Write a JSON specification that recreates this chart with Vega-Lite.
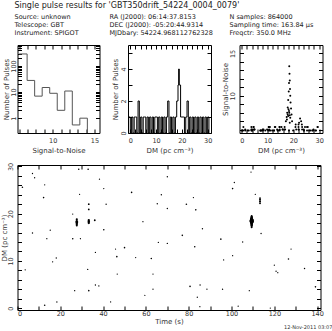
{
  "$schema": "https://vega.github.io/schema/vega-lite/v6.json",
  "padding": {"left": -0.5, "top": 0, "right": 0, "bottom": 0},
  "background": "white",
  "spacing": 7,
  "config": {
    "font": "DejaVu Sans",
    "view": {"stroke": "#000", "strokeWidth": 1},
    "axis": {"domain": false, "grid": false, "tickColor": "#000", "tickSize": -4, "minExtent": 0, "labelFontSize": 6.5, "labelColor": "#333", "titleFontSize": 7, "titleFontWeight": "normal", "titleColor": "#333"},
    "axisX": {"minExtent": 0},
    "axisY": {"minExtent": 0},
    "concat": {"spacing": 8}
  },
  "datasets": {
    "header": [
      {"row": 1, "col": 0, "label": "Source: unknown"},
      {"row": 2, "col": 0, "label": "Telescope: GBT"},
      {"row": 3, "col": 0, "label": "Instrument: SPIGOT"},
      {"row": 1, "col": 1, "label": "RA (J2000):      06:14:37.8153"},
      {"row": 2, "col": 1, "label": "DEC (J2000):   -05:20:44.9314"},
      {"row": 3, "col": 1, "label": "MJDbary: 54224.968112762328"},
      {"row": 1, "col": 2, "label": "N samples: 864000"},
      {"row": 2, "col": 2, "label": "Sampling time: 163.84 μs"},
      {"row": 3, "col": 2, "label": "Freqctr: 350.0 MHz"}
    ],
    "title": [{"row": 0, "col": 0, "label": "Single pulse results for 'GBT350drift_54224_0004_0079'"}],
    "snrhist": [
      {"snr": 6.0, "n": 290}, {"snr": 6.95, "n": 28}, {"snr": 7.85, "n": 7}, {"snr": 8.75, "n": 15},
      {"snr": 9.65, "n": 9}, {"snr": 10.55, "n": 2}, {"snr": 11.45, "n": 11}, {"snr": 12.35, "n": 0.55},
      {"snr": 13.25, "n": 1}, {"snr": 14.15, "n": 0.27}
    ],
    "dmhist": [
      {"dm": -0.5, "n": 1}, {"dm": 0, "n": 0}, {"dm": 0.5, "n": 1}, {"dm": 1, "n": 0}, {"dm": 1.5, "n": 1}, {"dm": 2, "n": 1},
      {"dm": 2.5, "n": 0}, {"dm": 3, "n": 2}, {"dm": 3.5, "n": 0}, {"dm": 4, "n": 1}, {"dm": 4.5, "n": 0}, {"dm": 5, "n": 1},
      {"dm": 5.5, "n": 1}, {"dm": 6, "n": 0}, {"dm": 6.5, "n": 1}, {"dm": 7, "n": 0}, {"dm": 7.5, "n": 1}, {"dm": 8, "n": 0},
      {"dm": 8.5, "n": 1}, {"dm": 9, "n": 0}, {"dm": 9.5, "n": 1}, {"dm": 10, "n": 1}, {"dm": 10.5, "n": 0}, {"dm": 11, "n": 1},
      {"dm": 11.5, "n": 0}, {"dm": 12, "n": 1}, {"dm": 12.5, "n": 0}, {"dm": 13, "n": 1}, {"dm": 13.5, "n": 0}, {"dm": 14, "n": 1},
      {"dm": 14.5, "n": 2}, {"dm": 15, "n": 0}, {"dm": 15.5, "n": 1}, {"dm": 16, "n": 0}, {"dm": 16.5, "n": 1}, {"dm": 17, "n": 0},
      {"dm": 17.5, "n": 1}, {"dm": 18, "n": 2}, {"dm": 18.5, "n": 3}, {"dm": 18.75, "n": 4}, {"dm": 19, "n": 3}, {"dm": 19.5, "n": 1},
      {"dm": 20, "n": 1}, {"dm": 20.5, "n": 1}, {"dm": 21, "n": 0}, {"dm": 21.5, "n": 1}, {"dm": 22, "n": 2}, {"dm": 22.5, "n": 0},
      {"dm": 23, "n": 1}, {"dm": 23.5, "n": 0}, {"dm": 24, "n": 1}, {"dm": 24.5, "n": 0}, {"dm": 25, "n": 1}, {"dm": 25.5, "n": 0},
      {"dm": 26, "n": 1}, {"dm": 26.5, "n": 0}, {"dm": 27, "n": 1}, {"dm": 27.5, "n": 0}, {"dm": 28, "n": 1}, {"dm": 28.5, "n": 0},
      {"dm": 29, "n": 1}, {"dm": 29.5, "n": 0}, {"dm": 30, "n": 1}, {"dm": 30.5, "n": 0}
    ],
    "pulses": [
      {"t": 28.6, "dm": 29.4, "snr": 6.3}, {"t": 33.0, "dm": 29.4, "snr": 6.3}, {"t": 7.0, "dm": 28.5, "snr": 5.9}, {"t": 8.0, "dm": 27.6, "snr": 5.9},
      {"t": 38.3, "dm": 27.3, "snr": 5.9}, {"t": 2.3, "dm": 25.6, "snr": 6.3}, {"t": 12.7, "dm": 26.1, "snr": 5.9}, {"t": 40.3, "dm": 25.3, "snr": 5.9},
      {"t": 53.3, "dm": 24.5, "snr": 6.3}, {"t": 70.0, "dm": 27.8, "snr": 6.0}, {"t": 67.2, "dm": 24.0, "snr": 6.0}, {"t": 12.2, "dm": 23.4, "snr": 6.3},
      {"t": 29.0, "dm": 24.1, "snr": 5.9}, {"t": 33.3, "dm": 22.0, "snr": 6.6}, {"t": 33.3, "dm": 20.9, "snr": 6.6}, {"t": 41.4, "dm": 22.0, "snr": 6.0},
      {"t": 65.3, "dm": 22.1, "snr": 6.0}, {"t": 70.0, "dm": 21.1, "snr": 6.0}, {"t": 25.8, "dm": 19.9, "snr": 5.9},
      {"t": 27.7, "dm": 17.5, "snr": 7.2}, {"t": 27.7, "dm": 17.8, "snr": 7.8}, {"t": 27.7, "dm": 18.1, "snr": 8.4}, {"t": 27.7, "dm": 18.4, "snr": 8.0}, {"t": 27.7, "dm": 18.8, "snr": 7.4},
      {"t": 33.3, "dm": 18.0, "snr": 7.6}, {"t": 33.3, "dm": 18.3, "snr": 8.2}, {"t": 33.3, "dm": 18.6, "snr": 7.7},
      {"t": 36.1, "dm": 18.6, "snr": 6.8}, {"t": 58.6, "dm": 18.3, "snr": 5.9}, {"t": 7.0, "dm": 15.9, "snr": 6.0}, {"t": 15.3, "dm": 16.5, "snr": 6.0},
      {"t": 40.3, "dm": 16.6, "snr": 6.3}, {"t": 13.7, "dm": 14.7, "snr": 6.0}, {"t": 25.8, "dm": 14.7, "snr": 6.3}, {"t": 29.4, "dm": 14.7, "snr": 5.9},
      {"t": 65.8, "dm": 13.9, "snr": 5.9},
      {"t": 109.1, "dm": 28.8, "snr": 5.9}, {"t": 101.3, "dm": 26.6, "snr": 5.9}, {"t": 100.5, "dm": 25.3, "snr": 6.3}, {"t": 111.1, "dm": 24.1, "snr": 5.9},
      {"t": 82.2, "dm": 23.4, "snr": 6.0}, {"t": 78.9, "dm": 22.0, "snr": 6.3},
      {"t": 113.3, "dm": 22.2, "snr": 6.8}, {"t": 113.3, "dm": 22.6, "snr": 7.3}, {"t": 113.3, "dm": 23.0, "snr": 7.0}, {"t": 113.3, "dm": 23.3, "snr": 6.6},
      {"t": 83.3, "dm": 20.8, "snr": 6.3},
      {"t": 109.4, "dm": 17.1, "snr": 7.0}, {"t": 109.4, "dm": 17.4, "snr": 7.5}, {"t": 109.4, "dm": 17.6, "snr": 8.0}, {"t": 109.4, "dm": 17.8, "snr": 8.6},
      {"t": 109.4, "dm": 18.0, "snr": 9.5}, {"t": 109.4, "dm": 18.2, "snr": 10.5}, {"t": 109.4, "dm": 18.3, "snr": 11.5}, {"t": 109.4, "dm": 18.4, "snr": 13.5},
      {"t": 109.4, "dm": 18.5, "snr": 12.6}, {"t": 109.4, "dm": 18.6, "snr": 11.8}, {"t": 109.4, "dm": 18.7, "snr": 10.8}, {"t": 109.4, "dm": 18.8, "snr": 10.0},
      {"t": 109.4, "dm": 18.9, "snr": 9.2}, {"t": 109.4, "dm": 19.1, "snr": 8.5}, {"t": 109.4, "dm": 19.3, "snr": 7.8}, {"t": 109.4, "dm": 19.5, "snr": 7.0},
      {"t": 86.4, "dm": 16.8, "snr": 6.0}, {"t": 113.8, "dm": 15.8, "snr": 6.0}, {"t": 77.0, "dm": 15.4, "snr": 6.3}, {"t": 95.0, "dm": 14.6, "snr": 6.3},
      {"t": 105.2, "dm": 14.0, "snr": 5.9},
      {"t": 45.8, "dm": 12.5, "snr": 5.9}, {"t": 50.0, "dm": 12.8, "snr": 6.3}, {"t": 36.4, "dm": 11.8, "snr": 5.9}, {"t": 46.4, "dm": 10.9, "snr": 6.3},
      {"t": 55.2, "dm": 10.7, "snr": 5.9}, {"t": 62.5, "dm": 10.5, "snr": 6.3}, {"t": 70.0, "dm": 13.7, "snr": 6.0}, {"t": 18.1, "dm": 10.6, "snr": 6.0},
      {"t": 16.4, "dm": 9.8, "snr": 6.0}, {"t": 3.6, "dm": 8.1, "snr": 6.0}, {"t": 32.8, "dm": 8.2, "snr": 5.9}, {"t": 46.6, "dm": 7.2, "snr": 5.9},
      {"t": 63.3, "dm": 7.2, "snr": 5.9}, {"t": 36.4, "dm": 4.9, "snr": 6.0}, {"t": 38.0, "dm": 4.7, "snr": 6.0}, {"t": 63.3, "dm": 4.0, "snr": 5.9},
      {"t": 26.7, "dm": 3.7, "snr": 6.0}, {"t": 33.3, "dm": 3.7, "snr": 6.3}, {"t": 59.5, "dm": 2.7, "snr": 5.9}, {"t": 18.4, "dm": 1.3, "snr": 6.0},
      {"t": 43.5, "dm": 1.3, "snr": 5.9}, {"t": 12.7, "dm": 0.6, "snr": 6.3},
      {"t": 82.8, "dm": 13.0, "snr": 6.3}, {"t": 127.8, "dm": 12.5, "snr": 5.9}, {"t": 96.3, "dm": 10.2, "snr": 5.9}, {"t": 100.5, "dm": 11.1, "snr": 5.9},
      {"t": 126.6, "dm": 10.4, "snr": 6.3}, {"t": 120.0, "dm": 9.1, "snr": 5.9}, {"t": 120.8, "dm": 7.8, "snr": 5.9}, {"t": 121.6, "dm": 7.5, "snr": 5.9},
      {"t": 134.1, "dm": 8.4, "snr": 6.0}, {"t": 80.6, "dm": 4.6, "snr": 6.3}, {"t": 85.3, "dm": 4.9, "snr": 6.0}, {"t": 88.5, "dm": 4.0, "snr": 5.9},
      {"t": 95.8, "dm": 4.0, "snr": 6.0}, {"t": 108.3, "dm": 3.7, "snr": 5.9}, {"t": 139.2, "dm": 4.5, "snr": 6.3}, {"t": 84.0, "dm": 2.3, "snr": 5.9},
      {"t": 85.2, "dm": 0.3, "snr": 5.9}, {"t": 103.1, "dm": 0.4, "snr": 5.9}, {"t": 118.1, "dm": 0.0, "snr": 5.9}
    ]
  },
  "vconcat": [
    {
      "width": 305,
      "height": 31,
      "view": {"stroke": null},
      "layer": [
        {
          "data": {"name": "title"},
          "mark": {"type": "text", "align": "left", "baseline": "middle", "fontSize": 8, "color": "#222"},
          "encoding": {
            "x": {"field": "col", "type": "quantitative", "scale": {"domain": [0, 1, 2], "range": [-3, 92, 212]}, "axis": null},
            "y": {"field": "row", "type": "quantitative", "scale": {"domain": [0, 1, 3], "range": [5.5, 16.5, 33]}, "axis": null},
            "text": {"field": "label"}
          }
        },
        {
          "data": {"name": "header"},
          "mark": {"type": "text", "align": "left", "baseline": "middle", "fontSize": 6.5, "color": "#222"},
          "encoding": {
            "x": {"field": "col", "type": "quantitative", "scale": {"domain": [0, 1, 2], "range": [-3, 92, 212]}, "axis": null},
            "y": {"field": "row", "type": "quantitative", "scale": {"domain": [0, 1, 3], "range": [5.5, 16.5, 33]}, "axis": null},
            "text": {"field": "label"}
          }
        }
      ]
    },
    {
      "spacing": 7,
      "vconcat": [
        {
          "spacing": 28.5,
          "bounds": "flush",
          "hconcat": [
            {
              "width": 82,
              "height": 88,
              "data": {"name": "snrhist"},
              "resolve": {"axis": {"x": "independent", "y": "independent"}},
              "layer": [
                {
                  "mark": {"type": "line", "interpolate": "step-after", "color": "#555", "strokeWidth": 1, "clip": true},
                  "encoding": {
                    "x": {"field": "snr", "type": "quantitative", "scale": {"domain": [5.8, 15.6], "nice": false, "zero": false},
                          "axis": {"title": "Signal-to-Noise", "titlePadding": 2.5, "labelPadding": 8, "values": [6, 7, 8, 9, 10, 11, 12, 13, 14, 15], "labelExpr": "datum.value % 5 === 0 ? datum.label : ''"}},
                    "y": {"field": "n", "type": "quantitative", "scale": {"type": "log", "domain": [0.27, 640], "nice": false},
                          "axis": {"title": "Number of Pulses", "titleX": -11.5, "titleBaseline": "middle", "labelAngle": -90, "labelAlign": "center", "labelBaseline": "bottom", "labelPadding": 5.5, "values": [1, 2, 3, 4, 5, 6, 7, 8, 9, 10, 20, 30, 40, 50, 60, 70, 80, 90, 100, 200, 300, 400, 500, 600], "labelExpr": "(datum.value === 1 || datum.value === 10 || datum.value === 100) ? datum.label : ''"}}
                  }
                },
                {
                  "mark": {"type": "line", "opacity": 0},
                  "encoding": {
                    "x": {"field": "snr", "type": "quantitative", "scale": {"domain": [5.8, 15.6], "nice": false, "zero": false},
                          "axis": {"orient": "top", "title": null, "labels": false, "values": [6, 7, 8, 9, 10, 11, 12, 13, 14, 15]}},
                    "y": {"field": "n", "type": "quantitative", "scale": {"type": "log", "domain": [0.27, 640], "nice": false},
                          "axis": {"orient": "right", "title": null, "labels": false, "values": [1, 2, 3, 4, 5, 6, 7, 8, 9, 10, 20, 30, 40, 50, 60, 70, 80, 90, 100, 200, 300, 400, 500, 600]}}
                  }
                }
              ]
            },
            {
              "width": 83,
              "height": 88,
              "data": {"name": "dmhist"},
              "resolve": {"axis": {"x": "independent", "y": "independent"}},
              "layer": [
                {
                  "mark": {"type": "line", "interpolate": "step-after", "color": "#000", "strokeWidth": 1, "clip": true},
                  "encoding": {
                    "x": {"field": "dm", "type": "quantitative", "scale": {"domain": [-0.9, 31.3], "nice": false, "zero": false},
                          "axis": {"title": "DM (pc cm⁻³)", "titlePadding": 2.5, "labelPadding": 8, "values": [0, 2, 4, 6, 8, 10, 12, 14, 16, 18, 20, 22, 24, 26, 28, 30], "labelExpr": "datum.value % 10 === 0 ? datum.label : ''"}},
                    "y": {"field": "n", "type": "quantitative", "scale": {"domain": [0, 5.5], "nice": false},
                          "axis": {"title": "Number of Pulses", "titleX": -12.5, "titleBaseline": "middle", "labelAngle": -90, "labelAlign": "center", "labelBaseline": "bottom", "labelPadding": 5.8, "values": [0, 1, 2, 3, 4, 5], "labelExpr": "datum.value % 2 === 0 ? datum.label : ''"}}
                  }
                },
                {
                  "mark": {"type": "line", "opacity": 0},
                  "encoding": {
                    "x": {"field": "dm", "type": "quantitative", "scale": {"domain": [-0.9, 31.3], "nice": false, "zero": false},
                          "axis": {"orient": "top", "title": null, "labels": false, "values": [0, 2, 4, 6, 8, 10, 12, 14, 16, 18, 20, 22, 24, 26, 28, 30]}},
                    "y": {"field": "n", "type": "quantitative", "scale": {"domain": [0, 5.5], "nice": false},
                          "axis": {"orient": "right", "title": null, "labels": false, "values": [0, 1, 2, 3, 4, 5]}}
                  }
                }
              ]
            },
            {
              "width": 83,
              "height": 88,
              "data": {"name": "pulses"},
              "resolve": {"axis": {"x": "independent", "y": "independent"}},
              "layer": [
                {
                  "mark": {"type": "circle", "color": "#000", "size": 4, "opacity": 1, "clip": true},
                  "encoding": {
                    "x": {"field": "dm", "type": "quantitative", "scale": {"domain": [-0.9, 31.3], "nice": false, "zero": false},
                          "axis": {"title": "DM (pc cm⁻³)", "titlePadding": 2.5, "labelPadding": 8, "values": [0, 2, 4, 6, 8, 10, 12, 14, 16, 18, 20, 22, 24, 26, 28, 30], "labelExpr": "datum.value % 10 === 0 ? datum.label : ''"}},
                    "y": {"field": "snr", "type": "quantitative", "scale": {"domain": [5.6, 16.0], "nice": false, "zero": false},
                          "axis": {"title": "Signal-to-Noise", "titleX": -14, "titleBaseline": "middle", "labelAngle": -90, "labelAlign": "center", "labelBaseline": "bottom", "labelPadding": 8, "values": [6, 7, 8, 9, 10, 11, 12, 13, 14, 15, 16], "labelExpr": "datum.value % 5 === 0 ? datum.label : ''"}}
                  }
                },
                {
                  "mark": {"type": "circle", "opacity": 0},
                  "encoding": {
                    "x": {"field": "dm", "type": "quantitative", "scale": {"domain": [-0.9, 31.3], "nice": false, "zero": false},
                          "axis": {"orient": "top", "title": null, "labels": false, "values": [0, 2, 4, 6, 8, 10, 12, 14, 16, 18, 20, 22, 24, 26, 28, 30]}},
                    "y": {"field": "snr", "type": "quantitative", "scale": {"domain": [5.6, 16.0], "nice": false, "zero": false},
                          "axis": {"orient": "right", "title": null, "labels": false, "values": [6, 7, 8, 9, 10, 11, 12, 13, 14, 15, 16]}}
                  }
                }
              ]
            }
          ]
        },
        {
          "width": 303,
          "height": 145,
          "data": {"name": "pulses"},
          "title": {"text": "12-Nov-2011 03:07", "orient": "bottom", "anchor": "end", "fontSize": 5, "fontWeight": "normal", "color": "#333", "offset": 1, "dx": 9},
          "resolve": {"axis": {"x": "independent", "y": "independent"}},
          "layer": [
            {
              "mark": {"type": "circle", "color": "#000", "opacity": 1, "clip": true},
              "encoding": {
                "x": {"field": "t", "type": "quantitative", "scale": {"domain": [0, 141.56], "nice": false, "zero": false},
                      "axis": {"title": "Time (s)", "titlePadding": 0.5, "labelPadding": 4, "values": [0, 10, 20, 30, 40, 50, 60, 70, 80, 90, 100, 110, 120, 130, 140], "labelExpr": "datum.value % 20 === 0 ? datum.label : ''"}},
                "y": {"field": "dm", "type": "quantitative", "scale": {"domain": [-0.4, 30.3], "nice": false, "zero": false},
                      "axis": {"title": "DM (pc cm⁻³)", "titleX": -13, "titleBaseline": "middle", "labelAngle": -90, "labelAlign": "center", "labelBaseline": "bottom", "labelPadding": 8, "values": [0, 2, 4, 6, 8, 10, 12, 14, 16, 18, 20, 22, 24, 26, 28, 30], "labelExpr": "datum.value % 10 === 0 ? datum.label : ''"}},
                "size": {"field": "snr", "type": "quantitative", "scale": {"domain": [5.8, 14], "range": [1.5, 18], "zero": false}, "legend": null}
              }
            },
            {
              "mark": {"type": "circle", "opacity": 0},
              "encoding": {
                "x": {"field": "t", "type": "quantitative", "scale": {"domain": [0, 141.56], "nice": false, "zero": false},
                      "axis": {"orient": "top", "title": null, "labels": false, "values": [0, 10, 20, 30, 40, 50, 60, 70, 80, 90, 100, 110, 120, 130, 140]}},
                "y": {"field": "dm", "type": "quantitative", "scale": {"domain": [-0.4, 30.3], "nice": false, "zero": false},
                      "axis": {"orient": "right", "title": null, "labels": false, "values": [0, 2, 4, 6, 8, 10, 12, 14, 16, 18, 20, 22, 24, 26, 28, 30]}}
              }
            }
          ]
        }
      ]
    }
  ]
}
